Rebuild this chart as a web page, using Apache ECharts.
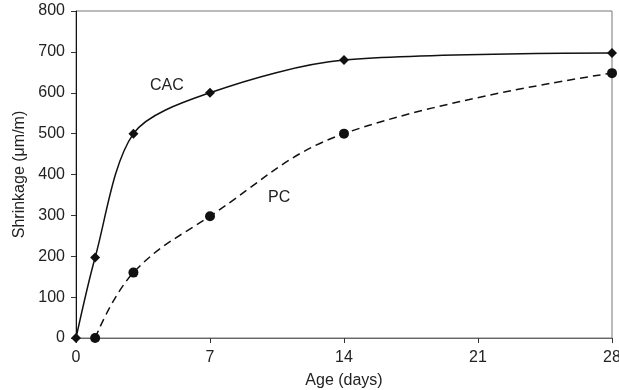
<!DOCTYPE html>
<html>
<head>
<meta charset="utf-8">
<script src="https://cdn.jsdelivr.net/npm/echarts@6/dist/echarts.min.js"></script>
<style>
  html, body { margin: 0; padding: 0; background: #fff; }
  #chart { width: 619px; height: 390px; }
</style>
</head>
<body>
<div id="chart"></div>
<script>
// ages in days, shrinkage in micro-strain
const cacAge = [0, 1, 3, 7, 14, 28];
const cacShrink = [0, 197, 500, 600, 680, 697];
const pcAge = [1, 3, 7, 14, 28];
const pcShrink = [0, 160, 298, 500, 648];
const xTicks = [0, 7, 14, 21, 28];
const yTicks = [0, 100, 200, 300, 400, 500, 600, 700, 800];

const font = '"Liberation Sans", Arial, sans-serif';
const chart = echarts.init(document.getElementById('chart'));

const pairs = (xs, ys) => xs.map((x, i) => [x, ys[i]]);

chart.setOption({
  animation: false,
  textStyle: { fontFamily: font },
  grid: {
    left: 76, right: 7, top: 11, bottom: 52,
    outerBoundsMode: 'none', containLabel: false,
    show: true, borderColor: '#777', borderWidth: 1
  },
  xAxis: {
    type: 'value', min: xTicks[0], max: xTicks[xTicks.length - 1], interval: 7,
    name: 'Age (days)', nameLocation: 'middle', nameGap: 35,
    nameTextStyle: { fontSize: 16, color: '#222', fontFamily: font },
    axisLine: { lineStyle: { color: '#666', width: 1 } },
    axisTick: { show: true, length: 5, lineStyle: { color: '#333' } },
    axisLabel: { fontSize: 16, color: '#222', margin: 12, fontFamily: font },
    splitLine: { show: false }
  },
  yAxis: {
    type: 'value', min: yTicks[0], max: yTicks[yTicks.length - 1], interval: 100,
    name: 'Shrinkage (\u03bcm/m)', nameLocation: 'middle', nameGap: 46,
    nameTextStyle: { fontSize: 16, color: '#222', fontFamily: font },
    axisLine: { show: true, lineStyle: { color: '#111', width: 1 } },
    axisTick: { show: true, length: 5, lineStyle: { color: '#333' } },
    axisLabel: { fontSize: 16, color: '#222', margin: 11, fontFamily: font },
    splitLine: { show: false }
  },
  graphic: [
    { type: 'text', left: 150, top: 78, style: { text: 'CAC', fontSize: 16, fill: '#222', fontFamily: font } },
    { type: 'text', left: 268, top: 190, style: { text: 'PC', fontSize: 16, fill: '#222', fontFamily: font } }
  ],
  series: [
    {
      name: 'CAC', type: 'line', data: pairs(cacAge, cacShrink),
      smooth: 0.3, symbol: 'diamond', symbolSize: 10,
      lineStyle: { color: '#111', width: 1.5 },
      itemStyle: { color: '#111' }
    },
    {
      name: 'PC', type: 'line', data: pairs(pcAge, pcShrink),
      smooth: 0.4, symbol: 'circle', symbolSize: 10,
      lineStyle: { color: '#111', width: 1.5, type: [8, 5] },
      itemStyle: { color: '#111' }
    }
  ]
});
</script>
</body>
</html>
